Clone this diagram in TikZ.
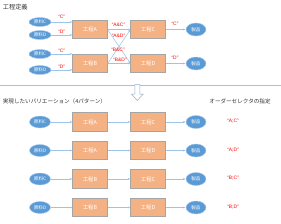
\documentclass[tikz,border=0pt]{standalone}
\usepackage{fontspec}
\setmainfont{Noto Sans CJK JP}
\newfontfamily\labfont{Liberation Sans}
\usetikzlibrary{shapes.geometric,arrows.meta}
\definecolor{ebl}{HTML}{5B9BD5}
\definecolor{bor}{HTML}{F4B183}
\definecolor{lnb}{HTML}{9DC3E6}
\definecolor{gbr}{HTML}{A5A5A5}
\tikzset{
  raw/.style={ellipse, fill=ebl, draw=ebl!55!white, line width=0.4bp, minimum width=22bp, minimum height=9bp, inner sep=0pt, text=white, font=\fontsize{4.6}{5}\selectfont},
  rawb/.style={raw, minimum width=21bp, minimum height=12bp},
  prod/.style={raw, minimum width=20bp, minimum height=13bp},
  proc/.style={rectangle, fill=bor, draw=gbr, line width=0.6bp, minimum width=34.5bp, minimum height=17.5bp, inner sep=0pt, text=white, font=\fontsize{5.4}{6}\selectfont},
  procb/.style={proc, minimum height=18.5bp},
  flow/.style={draw=lnb, line width=0.55bp, -{Latex[length=2.4bp,width=2bp,fill=ebl!80!white]}},
  lbl/.style={text=red, font=\labfont\fontsize{4.9}{5}\selectfont, inner sep=0pt},
  ttl/.style={font=\fontsize{5.6}{6}\selectfont, text=black!80, inner sep=0pt}
}
\begin{document}
\begin{tikzpicture}[x=1bp,y=-1bp]
\useasboundingbox (0,0) rectangle (281,224);
% title
\node[ttl, anchor=west, font=\fontsize{6.2}{7}\selectfont] (t1) at (2.7,7) {工程定義};
% top section
\node[raw] (c1) at (40,22) {原料C};
\node[raw] (d1) at (40,35) {原料D};
\node[raw] (c2) at (40,54) {原料C};
\node[raw] (d2) at (40,70) {原料D};
\node[proc] (A) at (90,29.5) {工程A};
\node[proc] (B) at (90,63.5) {工程B};
\node[proc] (C) at (148,29.5) {工程C};
\node[proc] (D) at (148,63.5) {工程D};
\node[prod] (p1) at (196,29.5) {製品};
\node[prod] (p2) at (196,63.5) {製品};
\draw[flow] (c1) -- (c1 -| A.west);
\draw[flow] (d1) -- (d1 -| A.west);
\draw[flow] (c2) -- (c2 -| B.west);
\draw[flow] (d2) -- (d2 -| B.west);
\node[lbl] (l1) at (61.7,17) {“C”};
\node[lbl] (l2) at (61.7,31.5) {“D”};
\node[lbl] (l3) at (61.7,50.5) {“C”};
\node[lbl] (l4) at (61.7,66.5) {“D”};
\draw[flow] (A) -- (C);
\draw[flow] (A.east) -- (D.west);
\draw[flow] (B.east) -- (C.west);
\draw[flow] (B) -- (D);
\node[lbl] (l5) at (118.5,25) {“A\&C”};
\node[lbl] (l6) at (118.5,35.5) {“A\&D”};
\node[lbl] (l7) at (118,49.7) {“B\&C”};
\node[lbl] (l8) at (120,59.7) {“B\&D”};
\draw[flow] (C) -- (p1);
\draw[flow] (D) -- (p2);
\node[lbl] (l9) at (175,24.3) {“C”};
\node[lbl] (l10) at (175,58) {“D”};
% separator and arrow
\draw[lnb, line width=0.6bp] (0,85.5) -- (281,85.5);
\draw[draw=lnb!70!gray, fill=white, line width=0.5bp] (134.8,84.5) -- (139.8,84.5) -- (139.8,94) -- (143.2,94) -- (137.3,100.5) -- (131.4,94) -- (134.8,94) -- cycle;
\node[ttl, anchor=west] (t2) at (2.7,101.5) {実現したいバリエーション（4パターン）};
\node[ttl] (t3) at (240,101) {オーダーセレクタの指定};
% rows
\node[rawb] (r1) at (40,122) {原料C};
\node[procb] (r1a) at (90,122) {工程A};
\node[procb] (r1b) at (148,122) {工程C};
\node[prod] (r1p) at (196,122) {製品};
\node[lbl] (r1l) at (233,121.5) {“A;C”};
\draw[flow] (r1) -- (r1a);
\draw[flow] (r1a) -- (r1b);
\draw[flow] (r1b) -- (r1p);
\node[rawb] (r2) at (40,150.5) {原料D};
\node[procb] (r2a) at (90,150.5) {工程A};
\node[procb] (r2b) at (148,150.5) {工程D};
\node[prod] (r2p) at (196,150.5) {製品};
\node[lbl] (r2l) at (233,150) {“A;D”};
\draw[flow] (r2) -- (r2a);
\draw[flow] (r2a) -- (r2b);
\draw[flow] (r2b) -- (r2p);
\node[rawb] (r3) at (40,179) {原料C};
\node[procb] (r3a) at (90,179) {工程B};
\node[procb] (r3b) at (148,179) {工程C};
\node[prod] (r3p) at (196,179) {製品};
\node[lbl] (r3l) at (233,178.5) {“B;C”};
\draw[flow] (r3) -- (r3a);
\draw[flow] (r3a) -- (r3b);
\draw[flow] (r3b) -- (r3p);
\node[rawb] (r4) at (40,207.5) {原料D};
\node[procb] (r4a) at (90,207.5) {工程B};
\node[procb] (r4b) at (148,207.5) {工程D};
\node[prod] (r4p) at (196,207.5) {製品};
\node[lbl] (r4l) at (233,207) {“B;D”};
\draw[flow] (r4) -- (r4a);
\draw[flow] (r4a) -- (r4b);
\draw[flow] (r4b) -- (r4p);
\end{tikzpicture}
\end{document}
